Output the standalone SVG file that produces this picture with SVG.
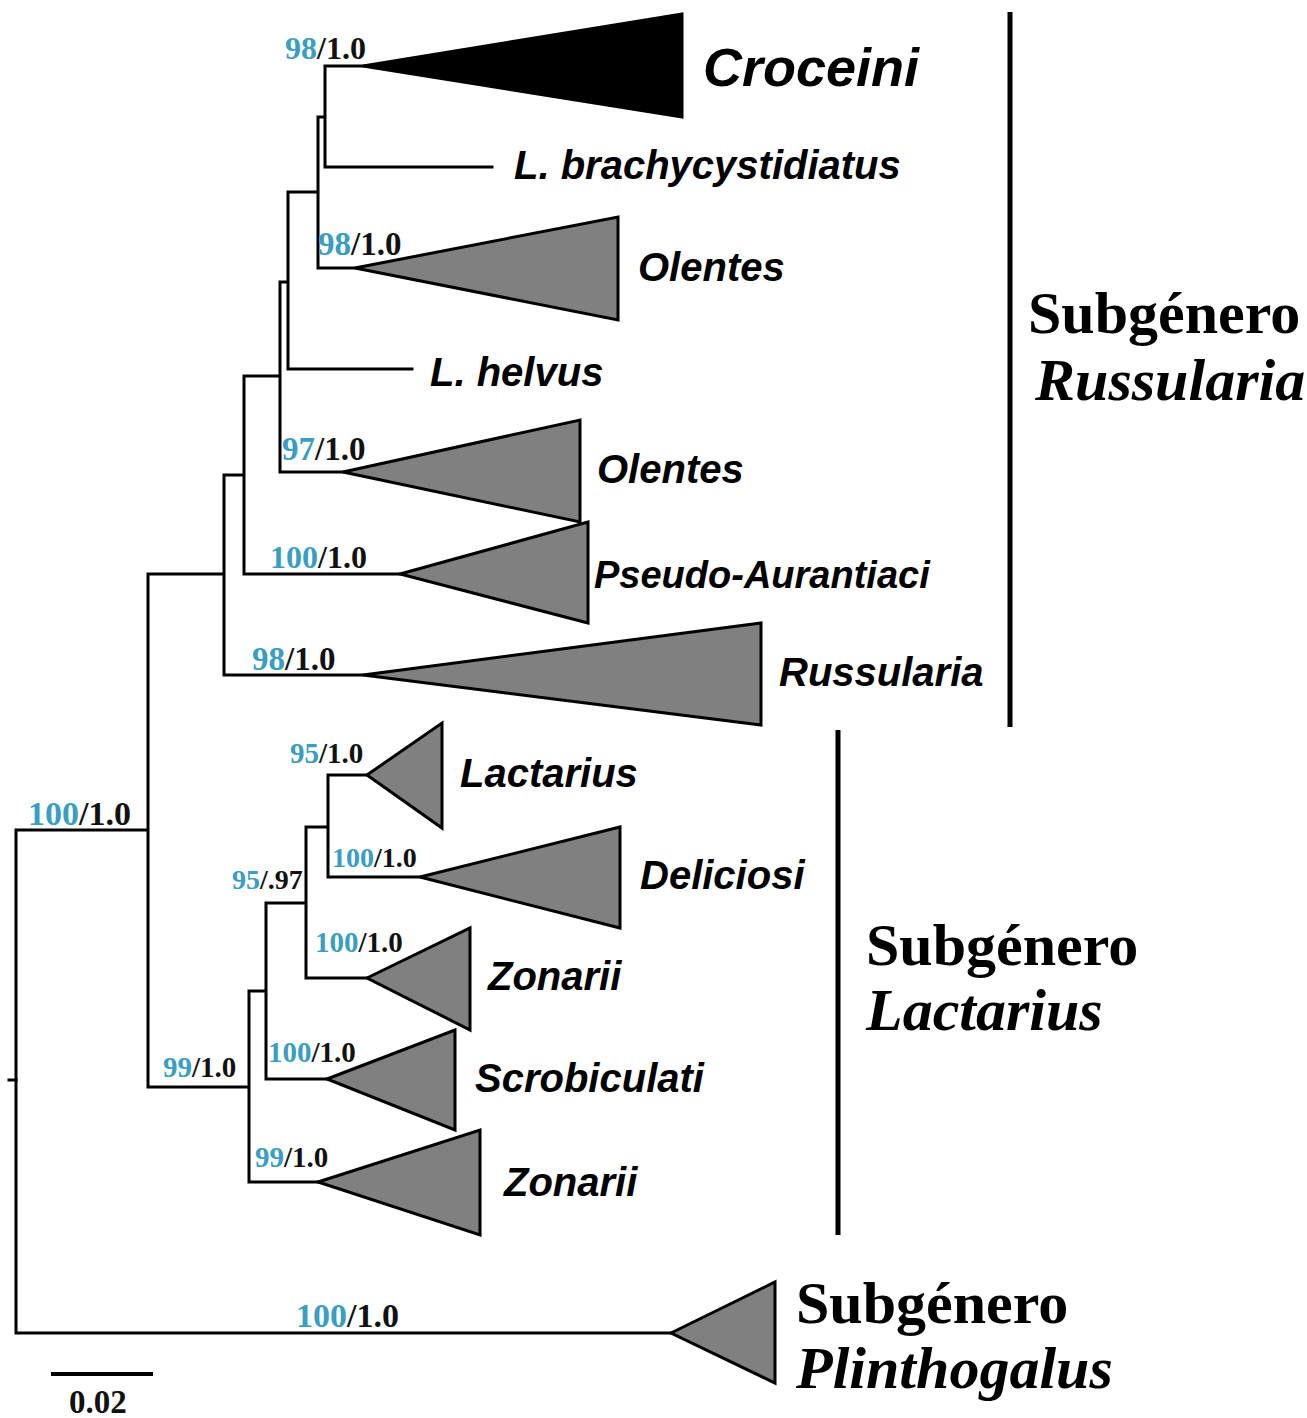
<svg xmlns="http://www.w3.org/2000/svg" width="1307" height="1418" viewBox="0 0 1307 1418">
<style>
.br{fill:none;stroke:#000;stroke-width:3;stroke-linecap:square}
.tri{fill:#808080;stroke:#000;stroke-width:3;stroke-linejoin:miter}
.blk{fill:#000;stroke:#000;stroke-width:3}
.tx{font-family:"Liberation Sans",Arial,sans-serif;font-weight:bold;font-style:italic;font-size:40px;fill:#000}
.big{font-size:54px}
.mid{font-size:38px}
.bs{font-family:"Liberation Serif","Times New Roman",serif;font-weight:bold;fill:#111}
.b{fill:#3a9dc2}
.sg{font-family:"Liberation Serif","Times New Roman",serif;font-weight:bold;font-size:60px;fill:#000}
.it{font-style:italic}
.bar{stroke:#000;stroke-width:5}
</style>
<rect width="1307" height="1418" fill="#fff"/>
<g id="connectors">
<path class="br" d="M16,830 V1333 M16,830 H148 M16,1333 H671 M148,574 V1087 M148,574 H224 M148,1087 H249 M224,475 V675 M224,475 H244 M224,675 H363 M244,376 V574 M244,376 H280 M244,574 H400 M280,282 V472 M280,282 H288 M280,472 H343 M288,192 V369 M288,192 H318 M288,369 H412 M318,117 V268 M318,117 H325 M318,268 H355 M325,66 V167 M325,66 H363 M325,167 H492 M249,991 V1182 M249,991 H266 M249,1182 H318 M266,903 V1079 M266,903 H306 M266,1079 H327 M306,827 V978 M306,827 H328 M306,978 H367 M328,775 V877 M328,775 H367 M328,877 H420"/>
<path class="br" d="M9,1080 H16"/>
</g>
<g id="croceini"><polygon class="blk" points="363,66 682,14 682,117"/><text class="tx big" x="703" y="86">Croceini</text></g>
<g id="brachy"><text class="tx" x="514" y="179">L. brachycystidiatus</text></g>
<g id="olentes1"><polygon class="tri" points="355,268 618,217 618,320"/><text class="tx" x="638" y="281">Olentes</text></g>
<g id="helvus"><text class="tx" x="430" y="386">L. helvus</text></g>
<g id="olentes2"><polygon class="tri" points="343,472 580,420 580,522"/><text class="tx" x="597" y="483">Olentes</text></g>
<g id="pseudo"><polygon class="tri" points="400,574 588,522 588,623"/><text class="tx mid" x="594" y="588">Pseudo-Aurantiaci</text></g>
<g id="russularia"><polygon class="tri" points="363,675 761,623 761,725"/><text class="tx" x="779" y="686">Russularia</text></g>
<g id="lactarius"><polygon class="tri" points="367,775 442,723 442,828"/><text class="tx" x="460" y="787">Lactarius</text></g>
<g id="deliciosi"><polygon class="tri" points="420,877 620,827 620,928"/><text class="tx" x="640" y="889">Deliciosi</text></g>
<g id="zonarii1"><polygon class="tri" points="367,978 470,928 470,1030"/><text class="tx" x="488" y="990">Zonarii</text></g>
<g id="scrobiculati"><polygon class="tri" points="327,1079 455,1030 455,1130"/><text class="tx" x="475" y="1092">Scrobiculati</text></g>
<g id="zonarii2"><polygon class="tri" points="318,1182 480,1130 480,1235"/><text class="tx" x="504" y="1196">Zonarii</text></g>
<g id="plinthogalus"><polygon class="tri" points="671,1333 775,1282 775,1383"/>
<text class="sg" x="796" y="1323">Subgénero</text><text class="sg it" x="796" y="1388">Plinthogalus</text></g>
<g id="support">
<text class="bs" x="285" y="59" font-size="32"><tspan class="b">98</tspan>/1.0</text>
<text class="bs" x="318" y="255" font-size="33"><tspan class="b">98</tspan>/1.0</text>
<text class="bs" x="282" y="460" font-size="33"><tspan class="b">97</tspan>/1.0</text>
<text class="bs" x="270" y="568" font-size="32"><tspan class="b">100</tspan>/1.0</text>
<text class="bs" x="252" y="670" font-size="33"><tspan class="b">98</tspan>/1.0</text>
<text class="bs" x="28" y="825" font-size="34"><tspan class="b">100</tspan>/1.0</text>
<text class="bs" x="290" y="763" font-size="29"><tspan class="b">95</tspan>/1.0</text>
<text class="bs" x="332" y="867" font-size="28"><tspan class="b">100</tspan>/1.0</text>
<text class="bs" x="232" y="889" font-size="28"><tspan class="b">95</tspan>/.97</text>
<text class="bs" x="315" y="952" font-size="29"><tspan class="b">100</tspan>/1.0</text>
<text class="bs" x="268" y="1062" font-size="29"><tspan class="b">100</tspan>/1.0</text>
<text class="bs" x="163" y="1077" font-size="29"><tspan class="b">99</tspan>/1.0</text>
<text class="bs" x="255" y="1167" font-size="29"><tspan class="b">99</tspan>/1.0</text>
<text class="bs" x="296" y="1327" font-size="34"><tspan class="b">100</tspan>/1.0</text>
</g>
<g id="subgenus-russularia">
<line class="bar" x1="1010" y1="12" x2="1010" y2="727"/>
<text class="sg" x="1028" y="333">Subgénero</text><text class="sg it" x="1035" y="400">Russularia</text>
</g>
<g id="subgenus-lactarius">
<line class="bar" x1="838" y1="730" x2="838" y2="1235"/>
<text class="sg" x="866" y="965">Subgénero</text><text class="sg it" x="866" y="1030">Lactarius</text>
</g>
<g id="scale">
<line x1="51" y1="1374" x2="153" y2="1374" stroke="#000" stroke-width="4"/>
<text class="bs" x="69" y="1413" font-size="33">0.02</text>
</g>
</svg>
